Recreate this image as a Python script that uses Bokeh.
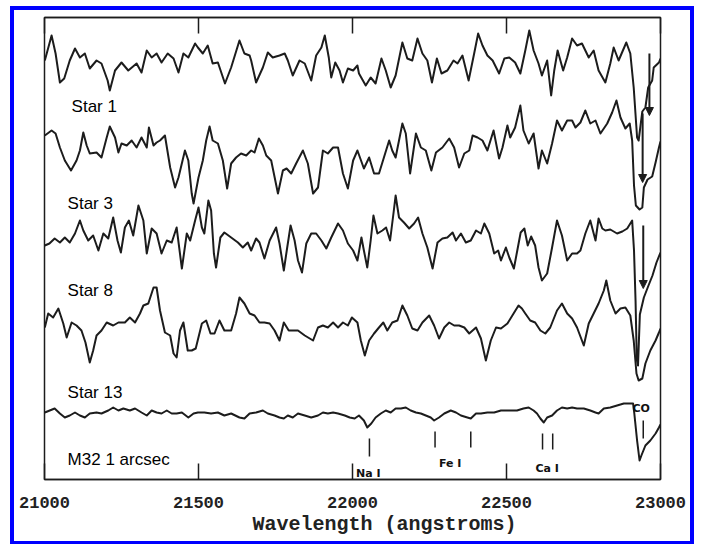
from bokeh.plotting import figure
from bokeh.models import (Range1d, FixedTicker, LinearAxis, Arrow, NormalHead,
                          Title, ColumnDataSource)
from bokeh.core.properties import value
from bokeh.embed import file_html
from bokeh.resources import INLINE

# ---------------- data (wavelength in angstroms, relative flux + offset) -------------
star1_wl = [21001, 21023, 21036, 21050, 21064, 21082, 21099, 21115, 21131, 21147, 21169, 21185,
            21205, 21212, 21229, 21250, 21272, 21299, 21315, 21332, 21348, 21364, 21380, 21400,
            21419, 21435, 21451, 21467, 21489, 21498, 21514, 21530, 21546, 21563, 21586, 21606,
            21633, 21649, 21666, 21671, 21687, 21709, 21725, 21741, 21763, 21780, 21790, 21806,
            21828, 21845, 21866, 21882, 21899, 21910, 21923, 21931, 21944, 21958, 21969, 21985,
            22002, 22016, 22021, 22043, 22059, 22075, 22094, 22108, 22124, 22140, 22162, 22178,
            22194, 22211, 22227, 22243, 22258, 22274, 22289, 22308, 22328, 22341, 22357, 22377,
            22395, 22408, 22422, 22438, 22455, 22476, 22493, 22509, 22528, 22545, 22561, 22574,
            22588, 22604, 22615, 22632, 22645, 22655, 22666, 22684, 22697, 22713, 22729, 22745,
            22767, 22783, 22799, 22821, 22837, 22848, 22864, 22889, 22902, 22913, 22924, 22929,
            22941, 22951, 22960, 22973, 22978, 22995, 23000]
star1_fx = [419, 444, 426, 397, 401, 419, 431, 422, 426, 411, 419, 416,
            399, 389, 409, 417, 409, 416, 407, 429, 422, 426, 417, 426,
            421, 407, 426, 422, 436, 432, 426, 434, 416, 417, 396, 412,
            439, 426, 424, 419, 397, 412, 427, 422, 424, 426, 419, 404,
            419, 416, 399, 424, 432, 444, 422, 402, 417, 409, 397, 411,
            409, 414, 406, 394, 402, 396, 421, 409, 392, 404, 437, 421,
            419, 441, 426, 419, 397, 421, 406, 409, 419, 416, 424, 399,
            426, 446, 434, 424, 419, 406, 421, 422, 417, 406, 429, 449,
            429, 416, 404, 419, 384, 409, 429, 409, 422, 441, 434, 436,
            422, 429, 409, 397, 416, 432, 419, 437, 426, 392, 342, 339,
            368, 372, 392, 399, 412, 417, 421]

star3_wl = [21001, 21023, 21036, 21050, 21066, 21086, 21104, 21115, 21126, 21137, 21147, 21169,
            21185, 21202, 21212, 21229, 21240, 21250, 21267, 21283, 21299, 21315, 21332, 21339,
            21354, 21364, 21375, 21391, 21408, 21424, 21435, 21456, 21467, 21478, 21484, 21500,
            21514, 21525, 21536, 21546, 21563, 21579, 21593, 21606, 21622, 21638, 21655, 21671,
            21682, 21696, 21709, 21720, 21736, 21758, 21774, 21786, 21801, 21817, 21839, 21855,
            21872, 21888, 21904, 21920, 21937, 21953, 21969, 21985, 22002, 22016, 22037, 22054,
            22070, 22086, 22102, 22119, 22129, 22140, 22162, 22173, 22187, 22206, 22222, 22238,
            22256, 22271, 22292, 22314, 22330, 22346, 22363, 22379, 22390, 22406, 22422, 22438,
            22458, 22476, 22487, 22503, 22512, 22528, 22545, 22555, 22572, 22588, 22604, 22615,
            22632, 22648, 22664, 22680, 22697, 22713, 22724, 22740, 22756, 22772, 22789, 22805,
            22827, 22843, 22857, 22870, 22886, 22900, 22908, 22914, 22920, 22932, 22941, 22946,
            22958, 22973, 22984, 22995, 23000]
star3_fx = [344, 349, 346, 332, 319, 309, 319, 329, 347, 334, 326, 327,
            322, 342, 353, 342, 327, 336, 334, 339, 332, 342, 332, 352,
            334, 337, 339, 344, 312, 292, 302, 329, 319, 286, 276, 302,
            319, 339, 353, 339, 336, 319, 291, 316, 322, 326, 324, 329,
            327, 341, 334, 324, 319, 286, 309, 311, 306, 316, 329, 316,
            286, 292, 329, 326, 332, 332, 306, 291, 319, 329, 311, 322,
            306, 306, 322, 339, 329, 322, 356, 346, 306, 346, 332, 329,
            309, 327, 332, 341, 332, 312, 326, 329, 344, 342, 339, 329,
            349, 321, 332, 354, 342, 352, 374, 349, 336, 346, 311, 329,
            316, 336, 359, 349, 359, 359, 352, 357, 369, 356, 359, 346,
            356, 367, 379, 362, 351, 356, 339, 294, 274, 270, 272, 292,
            300, 303, 317, 332, 338]

star8_wl = [21001, 21016, 21033, 21050, 21066, 21082, 21099, 21115, 21126, 21142, 21158, 21175,
            21191, 21207, 21223, 21237, 21248, 21261, 21274, 21288, 21305, 21321, 21332, 21348,
            21364, 21380, 21397, 21413, 21429, 21446, 21462, 21473, 21489, 21500, 21511, 21519,
            21532, 21541, 21550, 21557, 21571, 21584, 21606, 21628, 21644, 21660, 21671, 21687,
            21698, 21714, 21731, 21752, 21763, 21777, 21788, 21799, 21812, 21823, 21836, 21850,
            21866, 21882, 21899, 21915, 21931, 21953, 21969, 21985, 22002, 22016, 22029, 22037,
            22048, 22059, 22068, 22081, 22097, 22109, 22122, 22133, 22140, 22151, 22167, 22184,
            22200, 22213, 22227, 22243, 22260, 22276, 22292, 22308, 22325, 22336, 22352, 22368,
            22384, 22401, 22417, 22428, 22444, 22460, 22473, 22482, 22498, 22509, 22524, 22535,
            22546, 22558, 22569, 22580, 22593, 22604, 22615, 22632, 22648, 22664, 22680, 22697,
            22713, 22729, 22740, 22756, 22772, 22789, 22799, 22811, 22821, 22837, 22859, 22876,
            22892, 22908, 22914, 22919, 22923, 22927, 22933, 22946, 22961, 22974, 22987, 23000]
star8_fx = [234, 236, 241, 237, 242, 237, 246, 259, 249, 239, 244, 229,
            246, 241, 262, 239, 227, 252, 259, 244, 274, 259, 226, 251,
            246, 226, 239, 237, 252, 211, 246, 239, 259, 272, 252, 246,
            279, 269, 226, 212, 242, 247, 242, 237, 232, 237, 229, 241,
            237, 221, 239, 252, 236, 209, 232, 254, 239, 219, 207, 236,
            246, 246, 239, 231, 242, 256, 249, 236, 229, 219, 242, 229,
            212, 239, 264, 246, 249, 252, 239, 266, 284, 262, 257, 251,
            256, 262, 246, 232, 211, 237, 241, 242, 247, 239, 246, 237,
            239, 249, 246, 256, 246, 226, 229, 219, 232, 222, 211, 229,
            247, 251, 234, 243, 234, 212, 199, 206, 232, 259, 244, 219,
            226, 226, 229, 246, 259, 239, 261, 251, 249, 250, 246, 248,
            251, 259, 229, 179, 120, 114, 165, 182, 194, 204, 217, 227]

star13_wl = [21001, 21012, 21028, 21045, 21061, 21072, 21088, 21104, 21120, 21133, 21147, 21158,
             21169, 21185, 21202, 21223, 21240, 21261, 21277, 21294, 21310, 21321, 21337, 21354,
             21364, 21375, 21391, 21408, 21419, 21429, 21440, 21451, 21465, 21478, 21491, 21511,
             21525, 21539, 21552, 21568, 21584, 21606, 21622, 21633, 21649, 21666, 21682, 21698,
             21714, 21731, 21747, 21763, 21777, 21793, 21806, 21823, 21845, 21872, 21888, 21904,
             21920, 21937, 21953, 21969, 21985, 21998, 22016, 22027, 22040, 22054, 22070, 22086,
             22100, 22113, 22129, 22146, 22162, 22178, 22194, 22211, 22227, 22249, 22265, 22281,
             22298, 22314, 22330, 22346, 22363, 22379, 22401, 22417, 22433, 22449, 22466, 22482,
             22503, 22523, 22539, 22550, 22561, 22577, 22593, 22610, 22626, 22642, 22664, 22680,
             22697, 22713, 22729, 22751, 22767, 22783, 22799, 22816, 22824, 22837, 22854, 22870,
             22886, 22902, 22913, 22922, 22929, 22941, 22951, 22967, 22984, 22995, 23000]
star13_fx = [152, 166, 162, 171, 156, 142, 157, 154, 149, 137, 117, 129,
             144, 149, 157, 154, 157, 157, 162, 157, 166, 174, 176, 192,
             192, 169, 147, 144, 126, 122, 149, 157, 129, 129, 131, 156,
             159, 146, 146, 159, 149, 149, 166, 182, 176, 166, 164, 157,
             157, 156, 149, 139, 157, 149, 149, 149, 144, 139, 152, 154,
             152, 157, 152, 157, 154, 162, 157, 139, 124, 139, 146, 152,
             157, 149, 157, 159, 174, 164, 151, 149, 157, 164, 154, 141,
             152, 157, 154, 154, 152, 146, 152, 141, 119, 139, 152, 151,
             156, 166, 174, 171, 166, 159, 157, 149, 146, 152, 169, 176,
             166, 161, 152, 134, 156, 166, 176, 189, 199, 179, 166, 171,
             172, 164, 139, 106, 99, 101, 116, 129, 139, 147, 151]

m32_wl = [21001, 21017, 21033, 21050, 21066, 21082, 21099, 21115, 21131, 21147, 21169, 21185,
          21207, 21223, 21240, 21256, 21277, 21294, 21315, 21332, 21348, 21364, 21380, 21397,
          21413, 21429, 21446, 21467, 21484, 21498, 21519, 21541, 21563, 21584, 21606, 21633,
          21649, 21666, 21687, 21709, 21725, 21747, 21763, 21777, 21790, 21806, 21823, 21845,
          21866, 21888, 21904, 21920, 21937, 21953, 21975, 21991, 22007, 22021, 22037, 22048,
          22061, 22075, 22092, 22108, 22124, 22140, 22157, 22173, 22189, 22206, 22222, 22238,
          22254, 22265, 22281, 22298, 22319, 22336, 22352, 22373, 22384, 22401, 22417, 22438,
          22460, 22482, 22503, 22534, 22555, 22572, 22588, 22599, 22610, 22621, 22632, 22648,
          22664, 22680, 22697, 22713, 22729, 22751, 22772, 22789, 22799, 22816, 22837, 22859,
          22881, 22902, 22911, 22915, 22924, 22932, 22938, 22951, 22967, 22984, 22995, 23000]
m32_fx = [67, 69, 71, 66, 62, 64, 67, 64, 62, 66, 67, 66,
          69, 72, 69, 71, 69, 71, 67, 64, 69, 67, 66, 69,
          66, 66, 67, 62, 66, 67, 67, 66, 67, 64, 66, 62,
          61, 66, 67, 69, 66, 64, 62, 61, 64, 62, 66, 64,
          62, 64, 67, 66, 67, 66, 64, 62, 61, 64, 59, 52,
          56, 62, 66, 69, 67, 71, 71, 72, 69, 67, 66, 64,
          62, 59, 62, 66, 69, 67, 64, 62, 61, 66, 66, 67,
          67, 69, 69, 69, 71, 72, 69, 66, 61, 57, 62, 64,
          69, 72, 71, 72, 71, 71, 69, 67, 66, 71, 72, 74,
          76, 76, 76, 66, 39, 19, 24, 34, 39, 46, 52, 55]

star_names = ["Star 1", "Star 3", "Star 8", "Star 13", "M32 1 arcsec"]
name_wl = [21088, 21075, 21075, 21075, 21075]
name_fx = [373, 276, 189, 87, 20]

# CO band-head arrows (Star 1, Star 3, Star 8)
arrow_wl = [22964, 22942, 22944]
arrow_top = [426, 366, 254]
arrow_bottom = [364, 297, 191]

# line identifications
line_wl = [22055, 22268, 22384, 22617, 22650, 22944]
line_top = [41, 48, 48, 46, 46, 59]
line_bottom = [23, 32, 32, 30, 30, 41]
line_names = ["Na I", "Fe I", "Ca I", "CO"]
line_name_wl = [22051, 22317, 22632, 22937]
line_name_fx = [6, 16, 11, 71]

xticks = [21000, 21500, 22000, 22500, 23000]
x_title = "Wavelength (angstroms)"

# ---------------- figure -------------
INK = "#1c1c1c"
p = figure(width=676, height=531, x_range=Range1d(21000, 23000), y_range=Range1d(0, 462),
           output_backend="svg", toolbar_location=None, y_axis_location=None,
           min_border_left=30, min_border_right=30, min_border_top=7, min_border_bottom=62)
p.styles = {"position": "relative", "left": "14px", "top": "10px",
            "outline": "4px solid #0000ff"}
p.grid.visible = False
p.outline_line_color = INK
p.outline_line_width = 1.5
p.background_fill_color = "white"
p.border_fill_color = "white"

xa = p.xaxis[0]
xa.ticker = FixedTicker(ticks=xticks)
xa.major_tick_in = 16
xa.major_tick_out = 0
xa.minor_tick_line_color = None
xa.major_tick_line_color = INK
xa.major_tick_line_width = 1.5
xa.axis_line_color = INK
xa.axis_line_width = 1.5
xa.major_label_text_font = "Liberation Mono"
xa.major_label_text_font_style = "bold"
xa.major_label_text_font_size = "17px"
xa.major_label_text_color = "#222222"
xa.major_label_standoff = 17

top = LinearAxis(ticker=FixedTicker(ticks=xticks), major_tick_in=16, major_tick_out=0,
                 minor_tick_line_color=None, major_label_text_font_size="1px",
                 major_label_text_color=None,
                 major_tick_line_color=INK, major_tick_line_width=1.5,
                 axis_line_color=INK, axis_line_width=1.5, major_label_standoff=0)
p.add_layout(top, "above")

p.add_layout(Title(text=x_title, align="left", offset=208, text_font="Liberation Mono",
                   text_font_style="bold", text_font_size="20px", text_color="#222222",
                   standoff=1), "below")

for wl, fx in [(star1_wl, star1_fx), (star3_wl, star3_fx), (star8_wl, star8_fx),
               (star13_wl, star13_fx), (m32_wl, m32_fx)]:
    p.line(wl, fx, line_color=INK, line_width=2, line_join="round")

p.text(x=name_wl, y=name_fx, text=star_names, text_font=value("Liberation Sans"),
       text_font_size="17px", text_color="#000000", text_baseline="alphabetic",
       text_align="left")

asrc = ColumnDataSource(dict(x=arrow_wl, y0=arrow_top, y1=arrow_bottom))
p.add_layout(Arrow(source=asrc, x_start="x", y_start="y0", x_end="x", y_end="y1",
                   line_color=INK, line_width=2,
                   end=NormalHead(size=8, fill_color=INK, line_color=INK)))

p.segment(x0=line_wl, y0=line_top, x1=line_wl, y1=line_bottom, line_color=INK, line_width=1.5)
p.text(x=line_name_wl, y=line_name_fx, text=line_names, text_font=value("DejaVu Sans"),
       text_font_style="bold", text_font_size="11px", text_color="#111111",
       text_align="center", text_baseline="alphabetic")

open("out.html", "w").write(file_html(p, INLINE))
